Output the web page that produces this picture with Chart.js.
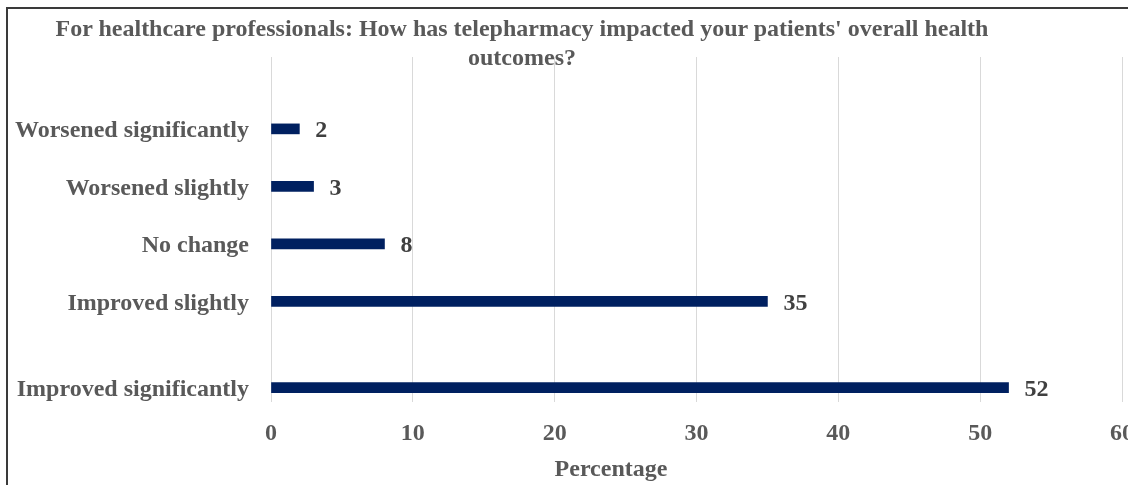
<!DOCTYPE html>
<html>
<head>
<meta charset="utf-8">
<script src="https://cdn.jsdelivr.net/npm/chart.js@4.4.1/dist/chart.umd.min.js"></script>
<style>
  html, body { margin: 0; padding: 0; background: #ffffff; }
  #wrap { position: relative; width: 1128px; height: 485px; overflow: hidden; background: #fff; }
  #frame { position: absolute; left: 6px; top: 7px; width: 1200px; height: 600px; border: 2px solid #3a3a3a; box-sizing: border-box; pointer-events: none; }
  #cv { position: absolute; left: 0; top: 0; }
  .txt { position: absolute; font-family: "Liberation Serif", "Times New Roman", serif; font-weight: bold; color: #595959; text-align: center; white-space: nowrap; }
  #title { left: 22px; width: 1000px; top: 14px; font-size: 24px; line-height: 29px; }
  #xtitle { left: 511px; width: 200px; top: 454px; font-size: 24px; line-height: 28px; }
</style>
</head>
<body>
<div id="wrap">
  <canvas id="cv" width="1160" height="485"></canvas>
  <div id="frame"></div>
  <div id="title" class="txt">For healthcare professionals: How has telepharmacy impacted your patients' overall health<br>outcomes?</div>
  <div id="xtitle" class="txt">Percentage</div>
</div>
<script>
// Category rows as laid out in the source sheet (blank rows keep the original spacing)
const categories = ["", "", "Worsened significantly", "", "Worsened slightly", "", "No change", "", "Improved slightly", "", "", "Improved significantly"];
const percentages = [null, null, 2, null, 3, null, 8, null, 35, null, null, 52];
const xTicks = [0, 10, 20, 30, 40, 50, 60];

const FONT = '"Liberation Serif", "Times New Roman", serif';

const valueLabels = {
  id: 'valueLabels',
  afterDatasetsDraw(chart) {
    const ctx = chart.ctx;
    const meta = chart.getDatasetMeta(0);
    ctx.save();
    ctx.font = 'bold 24px ' + FONT;
    ctx.fillStyle = '#404040';
    ctx.textAlign = 'left';
    ctx.textBaseline = 'middle';
    meta.data.forEach((bar, i) => {
      const v = percentages[i];
      if (v === null || v === undefined) return;
      ctx.fillText(String(v), bar.x + 16, bar.y + 2);
    });
    ctx.restore();
  }
};

new Chart(document.getElementById('cv'), {
  type: 'bar',
  data: {
    labels: categories,
    datasets: [{
      data: percentages,
      backgroundColor: '#002060',
      borderColor: '#002060',
      borderWidth: 0,
      barThickness: 10
    }]
  },
  options: {
    indexAxis: 'y',
    responsive: false,
    animation: false,
    layout: { padding: { top: 57, right: 38, left: 0, bottom: 0 } },
    plugins: { legend: { display: false }, tooltip: { enabled: false }, title: { display: false } },
    scales: {
      x: {
        type: 'linear',
        min: xTicks[0],
        max: xTicks[xTicks.length - 1],
        afterBuildTicks(scale) { scale.ticks = xTicks.map(v => ({ value: v })); },
        afterFit(scale) { scale.height = 83; },
        grid: { color: '#d9d9d9', lineWidth: 1, drawTicks: false },
        border: { display: false },
        ticks: { padding: 17, color: '#595959', font: { family: FONT, size: 24, weight: 'bold' }, maxRotation: 0 }
      },
      y: {
        afterFit(scale) { scale.width = 271; },
        grid: { display: false, drawTicks: false },
        border: { display: false },
        ticks: { padding: 22, labelOffset: 2, autoSkip: false, color: '#595959', font: { family: FONT, size: 24, weight: 'bold' } }
      }
    }
  },
  plugins: [valueLabels]
});
</script>
</body>
</html>
